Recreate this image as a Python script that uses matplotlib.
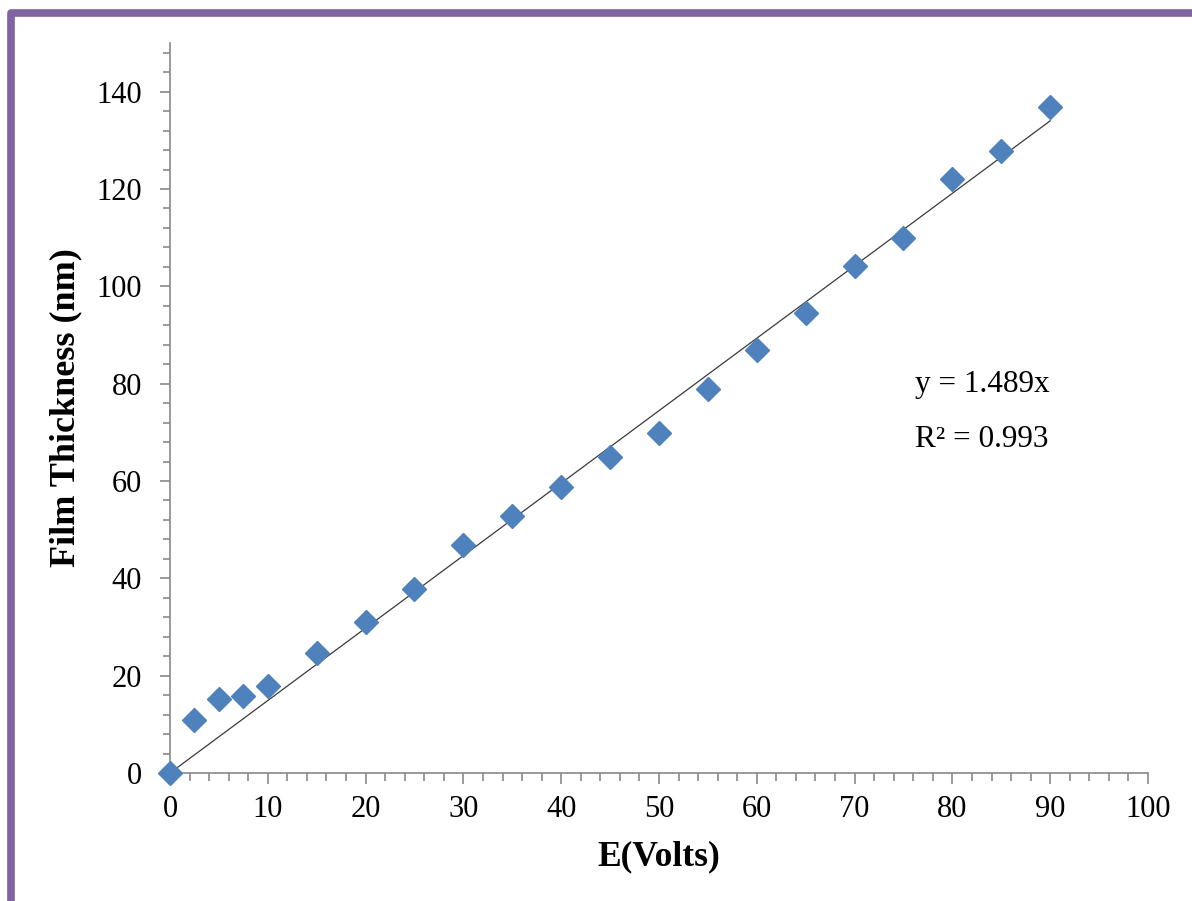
import matplotlib
matplotlib.use("Agg")
import matplotlib.pyplot as plt
from matplotlib.lines import Line2D
from matplotlib.ticker import MultipleLocator
import numpy as np

# Data
voltage = [0, 2.5, 5, 7.5, 10, 15, 20, 25, 30, 35, 40, 45, 50, 55, 60, 65, 70, 75, 80, 85, 90]
thickness = [0, 10.9, 15.2, 15.8, 17.9, 24.7, 31.0, 37.8, 46.9, 52.8, 58.8, 65.0, 69.9, 78.9,
             87.0, 94.6, 104.2, 110.0, 122.1, 127.9, 136.9]
slope = 1.489
r2 = 0.993
x_label = "E(Volts)"
y_label = "Film Thickness (nm)"
eq_text = "y = 1.489x"
r2_text = "R² = 0.993"

plt.rcParams['font.family'] = ['Liberation Serif', 'DejaVu Serif']

W, H = 1192, 901
fig = plt.figure(figsize=(W / 100, H / 100), dpi=100)
ax = fig.add_axes([170 / W, 1 - 773 / H, (1148 - 170) / W, (773 - 43) / H])

axis_color = '#898989'
marker_color = '#4F81BD'

# trendline
xs = np.array([0, max(voltage)])
ax.plot(xs, slope * xs, color='#3a3a3a', lw=0.9, zorder=2)
ax.plot(voltage, thickness, linestyle='none', marker='D', ms=12.5,
        color=marker_color, mec=marker_color, zorder=3, clip_on=False)

ax.set_xlim(0, 100)
ax.set_ylim(0, 150)
ax.set_yticks(np.arange(0, 141, 20))
ax.yaxis.set_minor_locator(MultipleLocator(4))
ax.xaxis.set_major_locator(MultipleLocator(10))
ax.xaxis.set_minor_locator(MultipleLocator(2))

for s in ['top', 'right']:
    ax.spines[s].set_visible(False)
for s in ['left', 'bottom']:
    ax.spines[s].set_color(axis_color)
    ax.spines[s].set_linewidth(1.2)

ax.tick_params(axis='x', which='major', direction='out', length=8, width=1.2,
               color=axis_color, labelsize=22, pad=8)
ax.tick_params(axis='x', which='minor', direction='out', length=6, width=1.2,
               color=axis_color)
ax.tick_params(axis='y', which='major', direction='out', length=7, width=1.2,
               color=axis_color, labelsize=22, pad=13)
ax.tick_params(axis='y', which='minor', direction='out', length=5, width=1.2,
               color=axis_color)

ax.set_xlabel(x_label, fontsize=25.5, fontweight='bold')
ax.set_ylabel(y_label, fontsize=26, fontweight='bold')
ax.xaxis.set_label_coords(0.5, (773 - 857) / 730)
ax.xaxis.label.set_va('center')
ax.yaxis.set_label_coords((66 - 170) / 978, 0.5)
ax.yaxis.label.set_va('center')

ax.text(76.2, 79.8, eq_text, fontsize=22.5, ha='left', va='center')
ax.text(76.2, 68.5, r2_text, fontsize=22.5, ha='left', va='center')

# purple frame (left and top edges)
frame = Line2D([11 / W, 11 / W, 1.02], [-0.02, 1 - 13 / H, 1 - 13 / H],
               transform=fig.transFigure, color='#8064A2', lw=5.5,
               solid_joinstyle='round', solid_capstyle='butt')
fig.add_artist(frame)

fig.savefig('out.png', dpi=100, facecolor='white')
